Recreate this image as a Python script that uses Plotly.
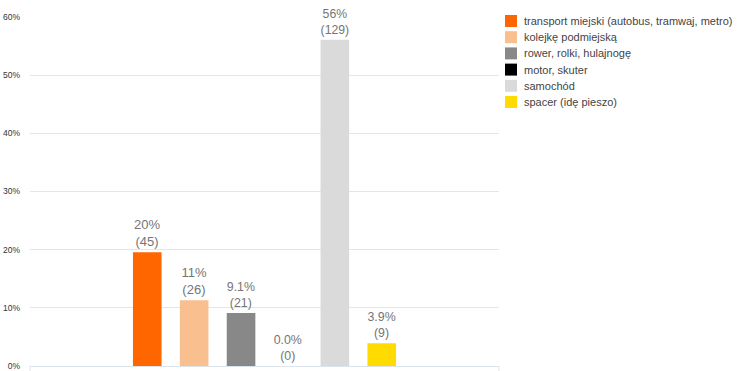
import plotly.graph_objects as go

categories = ["transport miejski (autobus, tramwaj, metro)", "kolejkę podmiejską",
              "rower, rolki, hulajnogę", "motor, skuter", "samochód", "spacer (idę pieszo)"]
counts = [45, 26, 21, 0, 129, 9]
pct_labels = ["20%", "11%", "9.1%", "0.0%", "56%", "3.9%"]
colors = ["#FF6600", "#F9BF8F", "#888888", "#000000", "#DADADA", "#FFDB00"]
tick_vals = [0, 0.1, 0.2, 0.3, 0.4, 0.5, 0.6]
tick_text = ["0%", "10%", "20%", "30%", "40%", "50%", "60%"]

W, H = 750, 371
ML, MR, MT, MB = 30, 251, 17, 5
PW, PH = W - ML - MR, H - MT - MB

total = sum(counts)
fig = go.Figure()
for name, c, p, col in zip(categories, counts, pct_labels, colors):
    fig.add_trace(go.Bar(
        x=[""], y=[c / total], name=name, marker=dict(color=col, line=dict(width=0)),
        text=[f"{p}<br>({c})"], textposition="outside", cliponaxis=False,
        textfont=dict(family="Arial, Liberation Sans", size=13, color="#757575"),
        hoverinfo="skip", showlegend=False,
    ))

# custom legend (compact like the original)
leg_x0, leg_y0, leg_step, sq = 505, 21, 16.2, 12
for i, (name, col) in enumerate(zip(categories, colors)):
    cy = leg_y0 + i * leg_step
    fig.add_shape(type="rect", xref="paper", yref="paper",
                  x0=(leg_x0 - ML) / PW, x1=(leg_x0 + sq - ML) / PW,
                  y0=(H - MB - (cy + sq / 2)) / PH, y1=(H - MB - (cy - sq / 2)) / PH,
                  fillcolor=col, line=dict(width=0))
    fig.add_annotation(xref="paper", yref="paper", x=(leg_x0 + sq + 5 - ML) / PW,
                       y=(H - MB - cy) / PH, text=name, showarrow=False,
                       xanchor="left", yanchor="middle",
                       font=dict(family="Arial, Liberation Sans", size=11, color="#444444"))

# small end ticks of the baseline
for xp in (0, 1):
    fig.add_shape(type="line", xref="paper", yref="paper", x0=xp, x1=xp,
                  y0=0, y1=-MB / PH, line=dict(color="#dde4ee", width=1))

fig.update_layout(
    width=W, height=H,
    margin=dict(l=ML, r=MR, t=MT, b=MB, autoexpand=False),
    paper_bgcolor="white", plot_bgcolor="white",
    barmode="group", bargap=0.40, bargroupgap=0.39,
    showlegend=False,
    xaxis=dict(showticklabels=False, showgrid=False, zeroline=False,
               showline=True, linecolor="#dde4ee", linewidth=1),
    yaxis=dict(range=[0, 0.6], tickvals=tick_vals, ticktext=tick_text,
               showgrid=True, gridcolor="#e5e5e5", gridwidth=1, zeroline=False,
               tickfont=dict(family="Arial, Liberation Sans", size=8.5, color="#333333"),
               ticklabelstandoff=9),
)
fig.write_html("out.html", config={"displayModeBar": False},
               post_script="document.body.style.margin='0';document.body.style.overflow='hidden';")
